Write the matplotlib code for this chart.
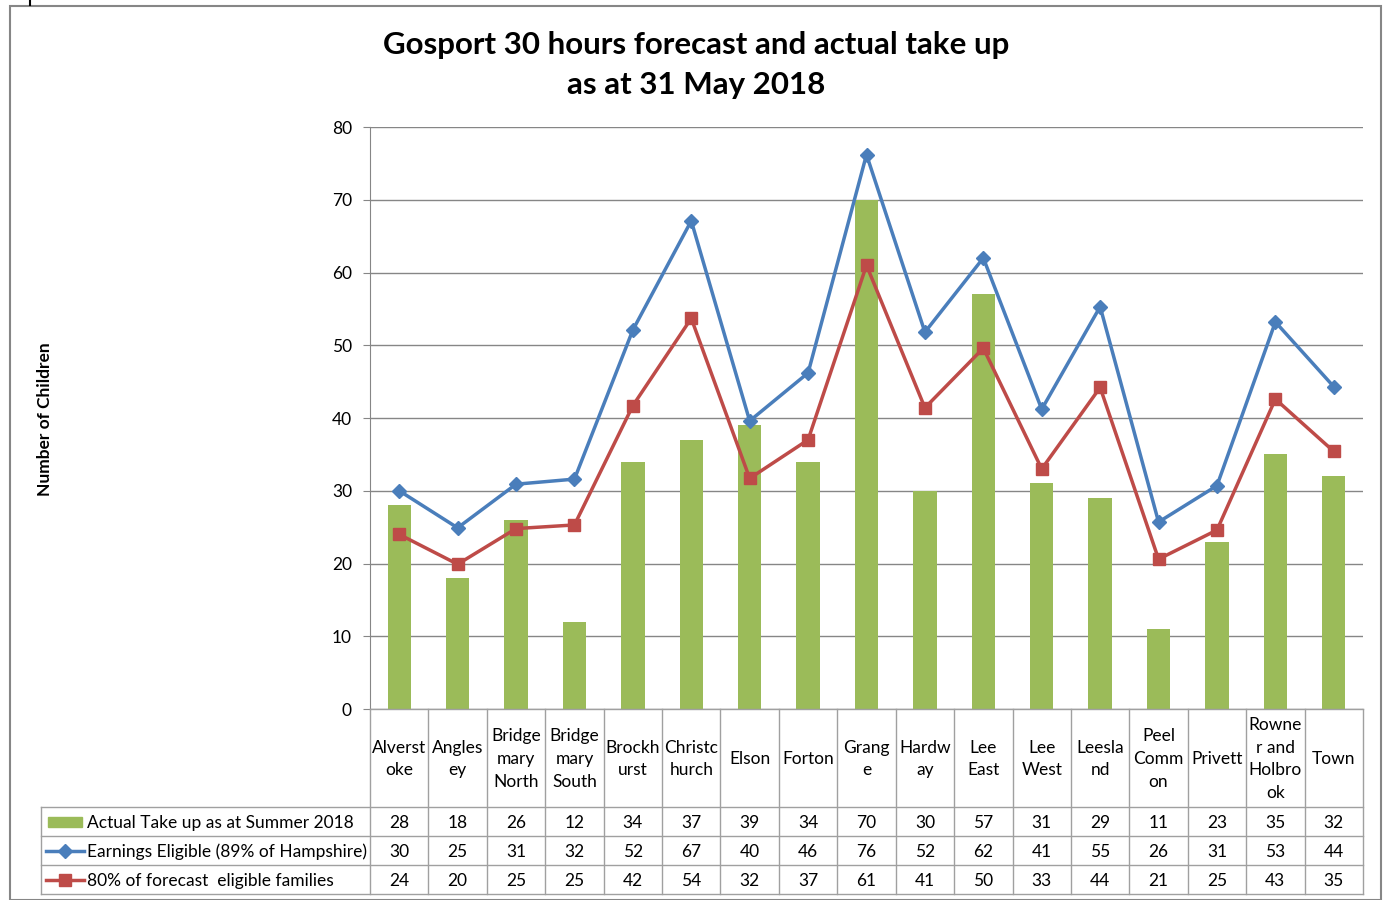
import matplotlib
matplotlib.use('Agg')
import matplotlib.pyplot as plt
import numpy as np
from matplotlib.patches import Rectangle

plt.rcParams['font.family'] = ['Lato', 'DejaVu Sans']

categories = ["Alverst\noke", "Angles\ney", "Bridge\nmary\nNorth", "Bridge\nmary\nSouth",
              "Brockh\nurst", "Christc\nhurch", "Elson", "Forton", "Grang\ne", "Hardw\nay",
              "Lee\nEast", "Lee\nWest", "Leesla\nnd", "Peel\nComm\non", "Privett",
              "Rowne\nr and\nHolbro\nok", "Town"]
actual = [28, 18, 26, 12, 34, 37, 39, 34, 70, 30, 57, 31, 29, 11, 23, 35, 32]
eligible = [30.0, 24.9, 30.9, 31.6, 52.1, 67.1, 39.6, 46.2, 76.2, 51.8, 62.0, 41.2, 55.3, 25.7, 30.7, 53.2, 44.3]
forecast80 = [24.0, 19.9, 24.8, 25.3, 41.7, 53.7, 31.7, 37.0, 61.0, 41.4, 49.6, 33.0, 44.2, 20.6, 24.6, 42.6, 35.4]
series_labels = ["Actual Take up as at Summer 2018", "Earnings Eligible (89% of Hampshire)",
                 "80% of forecast  eligible families"]
yticks = [0, 10, 20, 30, 40, 50, 60, 70, 80]
title_lines = ["Gosport 30 hours forecast and actual take up", "as at 31 May 2018"]
ylabel = "Number of Children"

GREEN = '#9BBB59'
BLUE = '#4A7EBB'
RED = '#BE4B48'
GRID = '#868686'
TBL = '#A0A0A0'

W, H = 1383, 900
fig = plt.figure(figsize=(W / 100, H / 100), dpi=100)

L, R, T, B = 370, 1363, 127, 709
ax = fig.add_axes([L / W, 1 - B / H, (R - L) / W, (B - T) / H])
n = len(categories)
x = np.arange(n)
ax.set_xlim(-0.5, n - 0.5)
ax.set_ylim(0, 80)
ax.bar(x, actual, width=0.4, color=GREEN, zorder=2)
ax.plot(x, eligible, color=BLUE, lw=2.5, marker='D', ms=7, zorder=3)
ax.plot(x, forecast80, color=RED, lw=2.5, marker='s', ms=8, zorder=4)
ax.set_yticks(yticks)
ax.yaxis.grid(True, color=GRID, lw=1)
ax.set_axisbelow(True)
for s in ['top', 'right', 'bottom']:
    ax.spines[s].set_visible(False)
ax.spines['left'].set_color(GRID)
ax.set_xticks([])
ax.tick_params(axis='y', length=5, color=GRID, labelsize=12.5, pad=8)

# overlay in pixel coordinates for the data table
ov = fig.add_axes([0, 0, 1, 1])
ov.set_xlim(0, W)
ov.set_ylim(H, 0)
ov.axis('off')

# outer border
ov.add_patch(Rectangle((10, 6), 1371, 894, fill=False, edgecolor=GRID, lw=1.5))
ov.plot([30, 30], [0, 5], color='black', lw=1.5)

colw = (R - L) / n
rows_y = [807, 836, 865, 894]
ov.plot([L, R], [B, B], color=TBL, lw=1)
for i in range(n + 1):
    xx = L + i * colw
    ov.plot([xx, xx], [B, rows_y[-1]], color=TBL, lw=1)
for yy in rows_y:
    ov.plot([41, R], [yy, yy], color=TBL, lw=1)
ov.plot([41, 41], [rows_y[0], rows_y[-1]], color=TBL, lw=1)

for i, c in enumerate(categories):
    cx = L + (i + 0.5) * colw
    ov.text(cx, (B + rows_y[0]) / 2 + 1, c, ha='center', va='center', fontsize=12.5,
            linespacing=1.52)

vals = [actual, eligible, forecast80]
for r, series in enumerate(vals):
    cy = (rows_y[r] + rows_y[r + 1]) / 2 + 1.5
    for i, v in enumerate(series):
        cx = L + (i + 0.5) * colw
        ov.text(cx, cy, f"{int(round(v))}", ha='center', va='center', fontsize=12.5)
    ov.text(87, cy, series_labels[r], ha='left', va='center', fontsize=12.5)

# legend keys
cy0 = (rows_y[0] + rows_y[1]) / 2
ov.add_patch(Rectangle((48, cy0 - 5), 34, 10, color=GREEN))
cy1 = (rows_y[1] + rows_y[2]) / 2
ov.plot([46, 84], [cy1, cy1], color=BLUE, lw=2.5)
ov.plot([65], [cy1], color=BLUE, marker='D', ms=7)
cy2 = (rows_y[2] + rows_y[3]) / 2
ov.plot([46, 84], [cy2, cy2], color=RED, lw=2.5)
ov.plot([65], [cy2], color=RED, marker='s', ms=8)

ov.text(696, 45, title_lines[0], ha='center', va='center', fontsize=22.5, fontweight='bold')
ov.text(696, 85, title_lines[1], ha='center', va='center', fontsize=22.5, fontweight='bold')
ov.text(45, 419, ylabel, ha='center', va='center', rotation=90, fontsize=12.5,
        fontweight='bold')

fig.savefig('out.png', dpi=100)
